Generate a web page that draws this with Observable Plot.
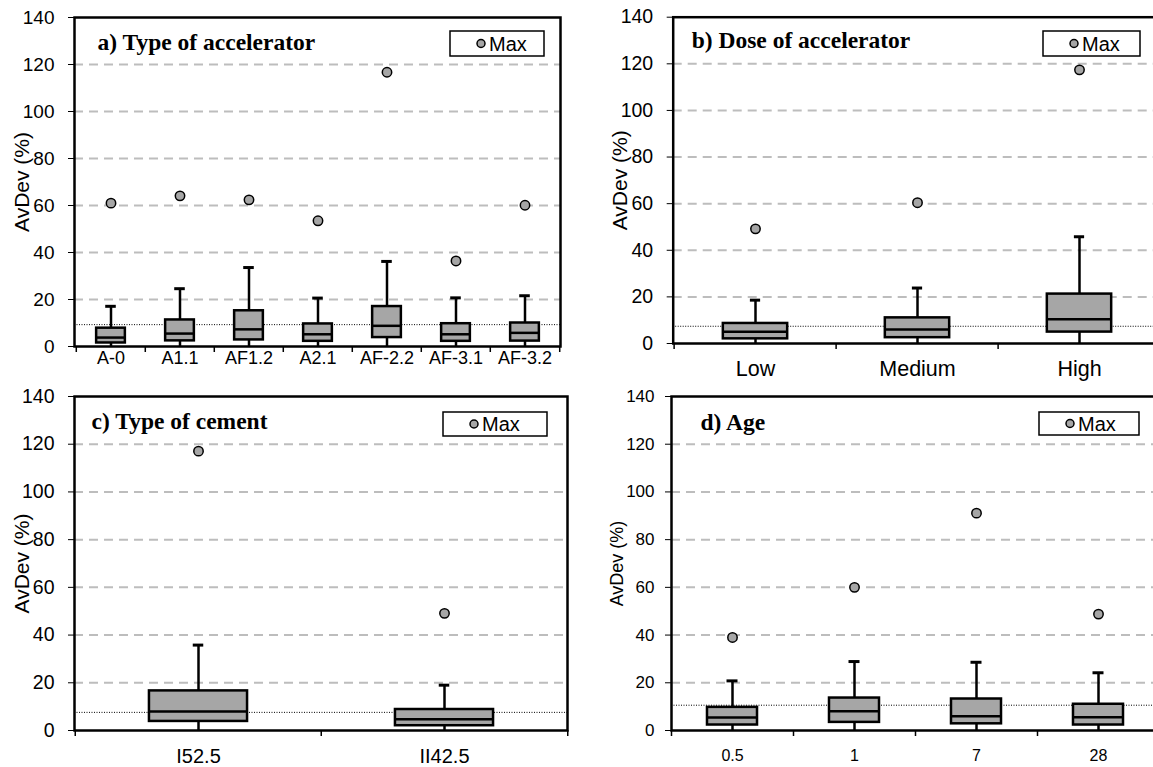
<!DOCTYPE html>
<html><head><meta charset="utf-8">
<script src="https://cdn.jsdelivr.net/npm/d3@7"></script>
<script src="https://cdn.jsdelivr.net/npm/@observablehq/plot@0.6"></script>
<style>
html,body{margin:0;padding:0;overflow:hidden;background:#fff;}
#root{position:relative;width:1153px;height:767px;overflow:hidden;}
.panel{position:absolute;}
</style></head><body><div id="root"></div>
<script>
// ---- shared axis text ----
const yTicks = [0, 20, 40, 60, 80, 100, 120, 140];
const gridValues = [20, 40, 60, 80, 100, 120];
const yLabel = "AvDev (%)";
const legendLabel = "Max";

// ---- a) Type of accelerator ----
const accelTitle = "a) Type of accelerator";
const accelCats = ["A-0", "A1.1", "AF1.2", "A2.1", "AF-2.2", "AF-3.1", "AF-3.2"];
const accelMin = [0, 0, 0, 0, 0, 0, 0];
const accelQ1 = [1.5, 2.4, 2.8, 2.2, 3.8, 2.2, 2.3];
const accelMedian = [3.8, 5.5, 7.3, 5.2, 8.8, 5.2, 5.8];
const accelQ3 = [7.8, 11.3, 15.2, 9.6, 17.0, 9.7, 10.0];
const accelWhisker = [17.1, 24.6, 33.6, 20.6, 36.2, 20.7, 21.6];
const accelMax = [61.0, 64.1, 62.4, 53.5, 116.7, 36.4, 60.1];
const accelRef = 9.3;

// ---- b) Dose of accelerator ----
const doseTitle = "b) Dose of accelerator";
const doseCats = ["Low", "Medium", "High"];
const doseMin = [0, 0, 0];
const doseQ1 = [2.0, 2.5, 4.9];
const doseMedian = [5.0, 6.0, 10.4];
const doseQ3 = [8.6, 11.0, 21.2];
const doseWhisker = [18.6, 23.8, 45.8];
const doseMax = [49.2, 60.4, 117.4];
const doseRef = 7.4;

// ---- c) Type of cement ----
const cementTitle = "c) Type of cement";
const cementCats = ["I52.5", "II42.5"];
const cementMin = [0, 0];
const cementQ1 = [3.8, 2.0];
const cementMedian = [8.0, 4.7];
const cementQ3 = [16.6, 8.8];
const cementWhisker = [35.8, 19.0];
const cementMax = [117.1, 49.1];
const cementRef = 7.6;

// ---- d) Age ----
const ageTitle = "d) Age";
const ageCats = ["0.5", "1", "7", "28"];
const ageMin = [0, 0, 0, 0];
const ageQ1 = [2.3, 3.4, 2.8, 2.3];
const ageMedian = [5.5, 8.1, 6.0, 5.6];
const ageQ3 = [9.7, 13.6, 13.2, 11.0];
const ageWhisker = [20.8, 28.9, 28.6, 24.2];
const ageMax = [39.0, 60.0, 91.1, 48.8];
const ageRef = 10.6;

const sans = "'Liberation Sans', Arial, Helvetica, sans-serif";
const serif = "'Liberation Serif', 'Times New Roman', serif";

function makePanel(p, L) {
  const rows = p.cats.map((c, i) => ({cat: c, min: p.min[i], q1: p.q1[i], med: p.med[i], q3: p.q3[i], whisk: p.whisk[i], max: p.max[i]}));
  const frameW = L.width - L.ml - L.mr;
  const frameH = L.height - L.mt - L.mb;
  const bw = frameW / p.cats.length;
  const boxInset = bw * (1 - L.boxFrac) / 2;
  const capInset = bw / 2 - L.cap / 2;
  const last = p.cats[p.cats.length - 1];
  const chart = Plot.plot({
    width: L.width, height: L.height,
    marginLeft: L.ml, marginRight: L.mr, marginTop: L.mt, marginBottom: L.mb,
    style: {fontFamily: sans, background: "white", maxWidth: "none", overflow: "visible", color: "#000"},
    x: {type: "band", domain: p.cats, padding: 0},
    y: {domain: [0, 140]},
    marks: [
      Plot.ruleY(gridValues, {stroke: "#bdbdbd", strokeWidth: 2, strokeDasharray: "9,6"}),
      Plot.ruleY([p.ref], {stroke: "#000", strokeWidth: 1, strokeDasharray: "1,1.5"}),
      Plot.ruleX(rows, {x: "cat", y1: "min", y2: "q1", stroke: "#000", strokeWidth: 2.5}),
      Plot.ruleX(rows, {x: "cat", y1: "q3", y2: "whisk", stroke: "#000", strokeWidth: 2.5}),
      Plot.tickY(rows, {x: "cat", y: "whisk", stroke: "#000", strokeWidth: 3, insetLeft: capInset, insetRight: capInset}),
      Plot.barY(rows, {x: "cat", y1: "q1", y2: "q3", fill: "#a6a6a6", stroke: "#000", strokeWidth: 2.5, insetLeft: boxInset, insetRight: boxInset}),
      Plot.tickY(rows, {x: "cat", y: "med", stroke: "#000", strokeWidth: 2.5, insetLeft: boxInset, insetRight: boxInset}),
      Plot.dot(rows, {x: "cat", y: "max", r: 4.7, fill: "#a6a6a6", stroke: "#000", strokeWidth: 1.5}),
      Plot.frame({stroke: "#000", strokeWidth: 2.5}),
      Plot.axisY({ticks: yTicks, tickSize: 6, tickPadding: L.ytp, fontSize: L.yfs, label: null}),
      Plot.axisX({tickSize: 0, tickPadding: L.xtp, fontSize: L.xfs, label: null}),
      Plot.ruleX(p.cats, {x: d => d, dx: -bw / 2, insetTop: frameH, insetBottom: -6, stroke: "#000", strokeWidth: 1.5}),
      Plot.ruleX([last], {x: d => d, dx: bw / 2, insetTop: frameH, insetBottom: -6, stroke: "#000", strokeWidth: 1.5}),
      Plot.text([yLabel], {frameAnchor: "left", dx: L.ylx, rotate: -90, textAnchor: "middle", lineAnchor: "middle", fontSize: L.ylfs, fill: "#000"}),
      Plot.text([p.title], {frameAnchor: "top-left", dx: L.tdx, dy: L.tdy, textAnchor: "start", lineAnchor: "middle", fontFamily: serif, fontWeight: "bold", fontSize: 23.5, fill: "#000"})
    ]
  });
  // legend
  const g = d3.select(chart).append("g").attr("text-anchor", "start");
  g.append("rect").attr("x", L.lgx).attr("y", L.lgy).attr("width", L.lgw).attr("height", L.lgh)
    .attr("fill", "white").attr("stroke", "#000").attr("stroke-width", 1.5);
  g.append("circle").attr("cx", L.lgx + 31).attr("cy", L.lgy + L.lgh / 2).attr("r", 4)
    .attr("fill", "#a6a6a6").attr("stroke", "#000").attr("stroke-width", 1.5);
  g.append("text").attr("x", L.lgx + 39).attr("y", L.lgy + L.lgh / 2).attr("dy", "0.35em")
    .attr("text-anchor", "start").attr("font-size", 20).attr("font-family", sans).attr("fill", "#000").text(legendLabel);

  const div = document.createElement("div");
  div.className = "panel";
  div.style.left = L.left + "px";
  div.style.top = L.top + "px";
  div.style.width = L.width + "px";
  div.style.height = L.height + "px";
  div.appendChild(chart);
  document.getElementById("root").appendChild(div);
}

makePanel(
  {title: accelTitle, cats: accelCats, min: accelMin, q1: accelQ1, med: accelMedian, q3: accelQ3, whisk: accelWhisker, max: accelMax, ref: accelRef},
  {left: 0, top: 0, width: 580, height: 383, ml: 74, mr: 20, mt: 17, mb: 37, boxFrac: 0.42, cap: 11,
   ytp: 14, yfs: 19, xtp: 5, xfs: 18, ylx: -52, ylfs: 21, tdx: 23, tdy: 25,
   lgx: 450, lgy: 31, lgw: 94, lgh: 25}
);
makePanel(
  {title: doseTitle, cats: doseCats, min: doseMin, q1: doseQ1, med: doseMedian, q3: doseQ3, whisk: doseWhisker, max: doseMax, ref: doseRef},
  {left: 580, top: 0, width: 591, height: 383, ml: 92.7, mr: 10, mt: 16.7, mb: 40, boxFrac: 0.40, cap: 11,
   ytp: 14, yfs: 19.5, xtp: 17, xfs: 21.5, ylx: -52.7, ylfs: 21, tdx: 18.5, tdy: 23,
   lgx: 463, lgy: 31, lgw: 97, lgh: 25}
);
makePanel(
  {title: cementTitle, cats: cementCats, min: cementMin, q1: cementQ1, med: cementMedian, q3: cementQ3, whisk: cementWhisker, max: cementMax, ref: cementRef},
  {left: 0, top: 383, width: 580, height: 384, ml: 74, mr: 13, mt: 13, mb: 37, boxFrac: 0.40, cap: 11,
   ytp: 14, yfs: 19.5, xtp: 18, xfs: 20, ylx: -52.5, ylfs: 21, tdx: 17, tdy: 25,
   lgx: 443, lgy: 29, lgw: 104, lgh: 24}
);
makePanel(
  {title: ageTitle, cats: ageCats, min: ageMin, q1: ageQ1, med: ageMedian, q3: ageQ3, whisk: ageWhisker, max: ageMax, ref: ageRef},
  {left: 580, top: 383, width: 591, height: 384, ml: 91, mr: 12, mt: 13, mb: 37, boxFrac: 0.41, cap: 11,
   ytp: 11, yfs: 17, xtp: 19, xfs: 16, ylx: -54, ylfs: 18, tdx: 29, tdy: 26,
   lgx: 459, lgy: 29, lgw: 100, lgh: 23}
);
</script></body></html>
